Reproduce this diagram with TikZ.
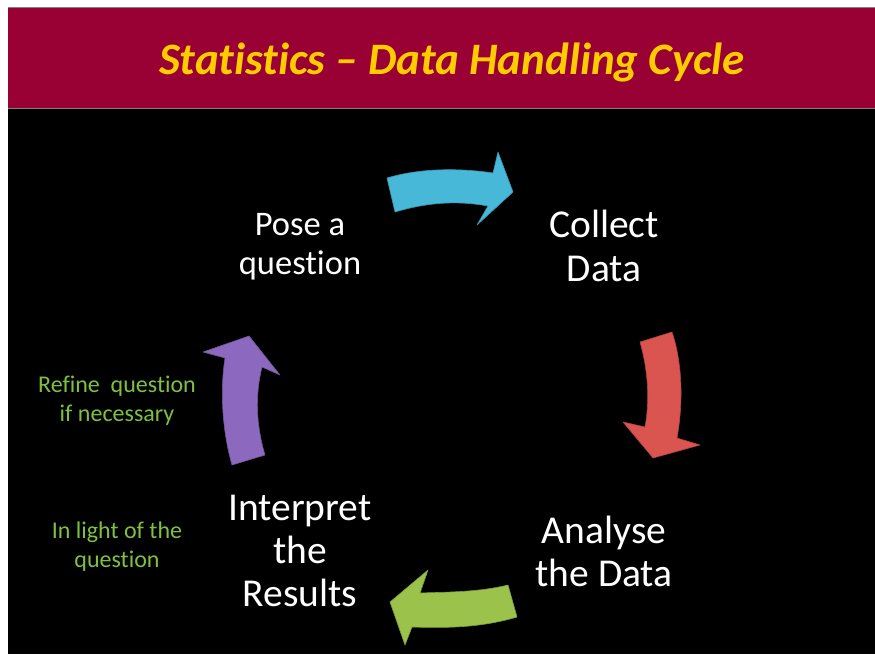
\documentclass[tikz,border=0pt]{standalone}
\usepackage{fontspec}
\setmainfont{Carlito}[Ligatures=NoCommon]
\definecolor{maroon}{HTML}{990033}
\definecolor{titleyellow}{HTML}{FFCC00}
\definecolor{notegreen}{HTML}{7DC142}
\definecolor{arrcyan}{HTML}{48B8D8}
\definecolor{arrred}{HTML}{DB5550}
\definecolor{arrgreen}{HTML}{9BC34B}
\definecolor{arrpurple}{HTML}{8C69BE}
\tikzset{
  stage/.style={text=white, align=center, inner sep=0pt},
  note/.style={text=notegreen, align=center, inner sep=0pt, font=\fontsize{24}{29}\selectfont},
  blockarrow/.style={line join=round, line width=0.6pt}
}
\begin{document}
\begin{tikzpicture}[x=1pt,y=-1pt]
\useasboundingbox (0,0) rectangle (875,654);
\fill[white] (0,0) rectangle (875,654);
% title band
\fill[maroon] (8,8) rectangle (875,108);
\draw[gray, line width=1pt] (8,7.5) -- (875,7.5);
\draw[gray, line width=1pt] (8,108.5) -- (875,108.5);
\fill[black] (8,109) rectangle (875,654);
\node[text=titleyellow, font=\fontsize{45}{54}\selectfont\bfseries\itshape] (title) at (452,62) {Statistics -- Data Handling Cycle};
% stages
\node[stage, font=\fontsize{34.5}{39}\selectfont] (pose) at (300,247) {Pose a\\question};
\node[stage, font=\fontsize{39.5}{44}\selectfont] (collect) at (604,246) {Collect\\Data};
\node[stage, font=\fontsize{39.5}{43}\selectfont] (analyse) at (604,551) {Analyse\\the Data};
\node[stage, font=\fontsize{39.5}{43}\selectfont] (interpret) at (300,551) {Interpret\\the\\Results};
% notes
\node[note] (refine) at (117,401) {Refine\ \ question\\if necessary};
\node[note] (light) at (117,547) {In light of the\\question};
% block arrows
\filldraw[blockarrow, fill=arrcyan, draw=arrcyan!80!black]
  (387,178) .. controls (420,168) and (460,168) .. (493,173) -- (498,152) -- (513,192) -- (477,225) -- (488,206)
  .. controls (455,200) and (425,203) .. (395,212) -- cycle;
\filldraw[blockarrow, fill=arrred, draw=arrred!80!black]
  (640,342) -- (672,332) .. controls (683,365) and (683,405) .. (677,438) -- (700,445) -- (653,458) -- (623,422) -- (645,427)
  .. controls (650,400) and (648,370) .. (640,342) -- cycle;
\filldraw[blockarrow, fill=arrgreen, draw=arrgreen!80!black]
  (508,585) -- (517,617) .. controls (480,628) and (445,628) .. (412,627) -- (405,645) -- (390,602) -- (428,570) -- (420,593)
  .. controls (450,592) and (480,592) .. (508,585) -- cycle;
\filldraw[blockarrow, fill=arrpurple, draw=arrpurple!80!black]
  (232,465) -- (265,455) .. controls (256,425) and (255,395) .. (262,367) -- (280,375) -- (249,336) -- (203,352) -- (225,358)
  .. controls (220,390) and (222,430) .. (232,465) -- cycle;
\end{tikzpicture}
\end{document}
